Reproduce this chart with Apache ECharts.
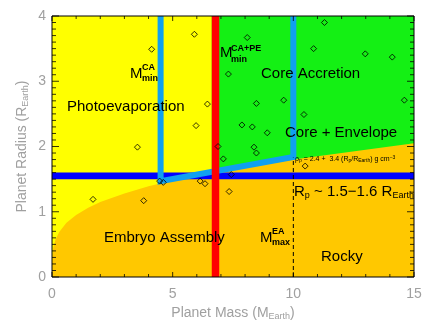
<!DOCTYPE html>
<html>
<head>
<meta charset="utf-8">
<script src="https://cdn.jsdelivr.net/npm/echarts@6/dist/echarts.min.js"></script>
<style>html,body{margin:0;padding:0;background:#fff}#c{width:436px;height:327px}</style>
</head>
<body>
<div id="c"></div>
<script>
// ---- data ----
const planetMass   = [4.13, 5.90, 6.44, 5.97, 3.54, 6.88, 11.29, 8.09, 10.84, 12.98, 14.10, 7.31, 8.47, 9.60, 14.60, 10.44, 7.87, 8.30, 8.92, 8.37, 8.47, 7.10, 10.49, 1.70, 3.80, 4.46, 4.61, 6.14, 6.34, 7.43, 7.34];
const planetRadius = [3.49, 3.72, 2.65, 2.32, 1.99, 2.00, 3.90, 3.67, 3.50, 3.42, 3.37, 3.11, 2.66, 2.71, 2.71, 2.49, 2.33, 2.30, 2.21, 1.99, 1.90, 1.81, 1.70, 1.19, 1.17, 1.47, 1.45, 1.47, 1.43, 1.57, 1.31];
const rockyMass   = [0, 0.01, 0.05, 0.15, 0.3, 0.6, 1, 1.5, 2, 3, 4, 5, 6, 7, 8, 9, 10, 11, 12, 13, 14, 15];
const rockyRadius = [0, 0.30, 0.45, 0.58, 0.69, 0.83, 0.95, 1.06, 1.15, 1.28, 1.39, 1.48, 1.55, 1.62, 1.68, 1.74, 1.80, 1.85, 1.90, 1.95, 2.00, 2.05];
const caPathMass   = [4.5, 4.5, 10, 10];
const caPathRadius = [4, 1.47, 1.84, 4];
const mCAPElow = 6.62, mCAPEhigh = 6.93;   // red band
const rTransLow = 1.5, rTransHigh = 1.6;   // dark blue band
const mEA = 10, mEAtop = 1.83;             // dashed line
const xMin = 0, xMax = 15, xInterval = 5, xMinorStep = 1;
const yMin = 0, yMax = 4, yInterval = 1, yMinorStep = 0.1;

const chart = echarts.init(document.getElementById('c'), null, {renderer: 'canvas'});
const FONT = 'Liberation Sans, Arial, sans-serif';
const GRAY = '#a0a0a0';

function rectItem(x0, y0, x1, y1, color) {
  return function (params, api) {
    const p0 = api.coord([x0, y1]);
    const p1 = api.coord([x1, y0]);
    return {type: 'rect', shape: {x: p0[0], y: p0[1], width: p1[0] - p0[0], height: p1[1] - p0[1]},
            style: {fill: color}};
  };
}

// inside tick marks on all four sides, placed through the axis scales as tiny rect symbols
const tickItems = [];
for (let i = 0; i <= Math.round((xMax - xMin) / xMinorStep); i++) {
  const v = xMin + i * xMinorStep;
  const len = (Math.abs(v / xInterval - Math.round(v / xInterval)) < 1e-6) ? 5 : 3;
  tickItems.push({value: [v, yMin], symbolSize: [1, len], symbolOffset: [0, -len / 2]});
  tickItems.push({value: [v, yMax], symbolSize: [1, len], symbolOffset: [0, len / 2]});
}
for (let i = 0; i <= Math.round((yMax - yMin) / yMinorStep); i++) {
  const v = +(yMin + i * yMinorStep).toFixed(4);
  const len = (Math.abs(v / yInterval - Math.round(v / yInterval)) < 1e-6) ? 7 : 4;
  tickItems.push({value: [xMin, v], symbolSize: [len, 1], symbolOffset: [len / 2, 0]});
  tickItems.push({value: [xMax, v], symbolSize: [len, 1], symbolOffset: [-len / 2, 0]});
}

function makeAxis(kind, pos, showLabel, extra) {
  const isX = kind === 'x';
  const a = {
    type: 'value', position: pos,
    min: isX ? xMin : yMin, max: isX ? xMax : yMax, interval: isX ? xInterval : yInterval,
    axisLine: {show: false},
    axisTick: {show: false},
    minorTick: {show: false},
    splitLine: {show: false},
    axisLabel: showLabel ? {color: GRAY, fontSize: 14, fontFamily: FONT, margin: isX ? 10 : 6} : {show: false}
  };
  return Object.assign(a, extra || {});
}

chart.setOption({
  animation: false,
  grid: {left: 52, top: 16, right: 22, bottom: 50, show: true, backgroundColor: '#FFFF00', borderWidth: 0},
  xAxis: [
    makeAxis('x', 'bottom', true, {
      name: '{a|Planet Mass (M}{s|Earth}{a|)}', nameLocation: 'middle', nameGap: 29, nameMoveOverlap: false,
      nameTextStyle: {rich: {a: {color: GRAY, fontSize: 14, fontFamily: FONT}, s: {color: GRAY, fontSize: 9, fontFamily: FONT, padding: [6, 0, 0, 0]}}}}),
    makeAxis('x', 'top', false)
  ],
  yAxis: [
    makeAxis('y', 'left', true, {
      name: '{a|Planet Radius (R}{s|Earth}{a|)}', nameLocation: 'middle', nameGap: 22, nameRotate: 90, nameMoveOverlap: false,
      nameTextStyle: {rich: {a: {color: GRAY, fontSize: 14, fontFamily: FONT}, s: {color: GRAY, fontSize: 9, fontFamily: FONT, padding: [6, 0, 0, 0]}}}}),
    makeAxis('y', 'right', false)
  ],
  series: [
    {type: 'line', data: [[mCAPElow, yMax], [xMax, yMax]], symbol: 'none', lineStyle: {width: 0},
     areaStyle: {color: '#14F014', opacity: 1}, z: 1},
    {type: 'line', data: rockyMass.map((m, i) => [m, rockyRadius[i]]), symbol: 'none', lineStyle: {width: 0},
     areaStyle: {color: '#FFC800', opacity: 1}, z: 2},
    {type: 'custom', renderItem: rectItem(xMin, rTransLow, xMax, rTransHigh, '#0000FF'), data: [0], z: 3, clip: true},
    {type: 'line', data: caPathMass.map((m, i) => [m, caPathRadius[i]]), symbol: 'none',
     lineStyle: {width: 6, color: '#10A0F0', join: 'miter', cap: 'butt'}, z: 4},
    {type: 'custom', renderItem: rectItem(mCAPElow, yMin, mCAPEhigh, yMax, '#FF0000'), data: [0], z: 5, clip: true},
    {type: 'line', data: [[mEA, 0], [mEA, mEAtop]], symbol: 'none',
     lineStyle: {width: 1, color: '#000', type: [4, 3]}, z: 6},
    {type: 'scatter', data: planetMass.map((m, i) => [m, planetRadius[i]]), symbol: 'diamond', symbolSize: 6,
     itemStyle: {color: 'rgba(0,0,0,0)', borderColor: '#000', borderWidth: 1}, z: 7},
    // plot frame
    {type: 'line', data: [[xMin, yMin], [xMax, yMin], [xMax, yMax], [xMin, yMax], [xMin, yMin]], symbol: 'none',
     lineStyle: {width: 1, color: '#000'}, clip: false, silent: true, z: 50},
    // tick marks
    {type: 'scatter', data: tickItems, symbol: 'rect', itemStyle: {color: '#000'}, clip: false, silent: true, z: 51}
  ],
  graphic: [
    {type: 'text', left: 67, top: 99, style: {text: 'Photoevaporation', font: '15px ' + FONT, fill: '#000'}, z: 100},
    {type: 'text', left: 261, top: 66, style: {text: 'Core Accretion', font: '15px ' + FONT, fill: '#000'}, z: 100},
    {type: 'text', left: 285, top: 125, style: {text: 'Core + Envelope', font: '15px ' + FONT, fill: '#000'}, z: 100},
    {type: 'text', left: 104, top: 230, style: {text: 'Embryo Assembly', font: '15px ' + FONT, fill: '#000'}, z: 100},
    {type: 'text', left: 321, top: 249, style: {text: 'Rocky', font: '15px ' + FONT, fill: '#000'}, z: 100},
    // M_min^CA
    {type: 'text', left: 130, top: 66, style: {text: 'M', font: '15px ' + FONT, fill: '#000'}, z: 100},
    {type: 'text', left: 142, top: 63, style: {text: 'CA', font: 'bold 9px ' + FONT, fill: '#000'}, z: 100},
    {type: 'text', left: 142, top: 74, style: {text: 'min', font: 'bold 9px ' + FONT, fill: '#000'}, z: 100},
    // M_min^CA+PE
    {type: 'text', left: 220, top: 45, style: {text: 'M', font: '15px ' + FONT, fill: '#000'}, z: 100},
    {type: 'text', left: 231, top: 44, style: {text: 'CA+PE', font: 'bold 9px ' + FONT, fill: '#000'}, z: 100},
    {type: 'text', left: 231, top: 55, style: {text: 'min', font: 'bold 9px ' + FONT, fill: '#000'}, z: 100},
    // M_max^EA
    {type: 'text', left: 260, top: 230, style: {text: 'M', font: '15px ' + FONT, fill: '#000'}, z: 100},
    {type: 'text', left: 272, top: 227, style: {text: 'EA', font: 'bold 9px ' + FONT, fill: '#000'}, z: 100},
    {type: 'text', left: 272, top: 238, style: {text: 'max', font: 'bold 9px ' + FONT, fill: '#000'}, z: 100},
    // R_p ~ 1.5-1.6 R_Earth
    {type: 'text', left: 294, top: 184, style: {
      text: '{a|R}{s|p}{a| ~ 1.5\u22121.6 R}{s|Earth}',
      rich: {a: {font: '15px ' + FONT, color: '#999'}, s: {font: '9px ' + FONT, color: '#999', padding: [8, 0, 0, 0]}}}, z: 100},
    // density relation
    {type: 'text', left: 295, top: 155, style: {
      text: '{a|\u03C1}{s|p}{a| = 2.4 +  3.4 (R}{s|p}{a|/R}{s|Earth}{a|) g cm}{u|\u22123}',
      rich: {a: {font: '7px ' + FONT, color: '#555'}, s: {font: '5px ' + FONT, color: '#555', padding: [3, 0, 0, 0]}, u: {font: '5px ' + FONT, color: '#555', padding: [0, 0, 4, 0]}}}, z: 100}
  ]
});
</script>
</body>
</html>
